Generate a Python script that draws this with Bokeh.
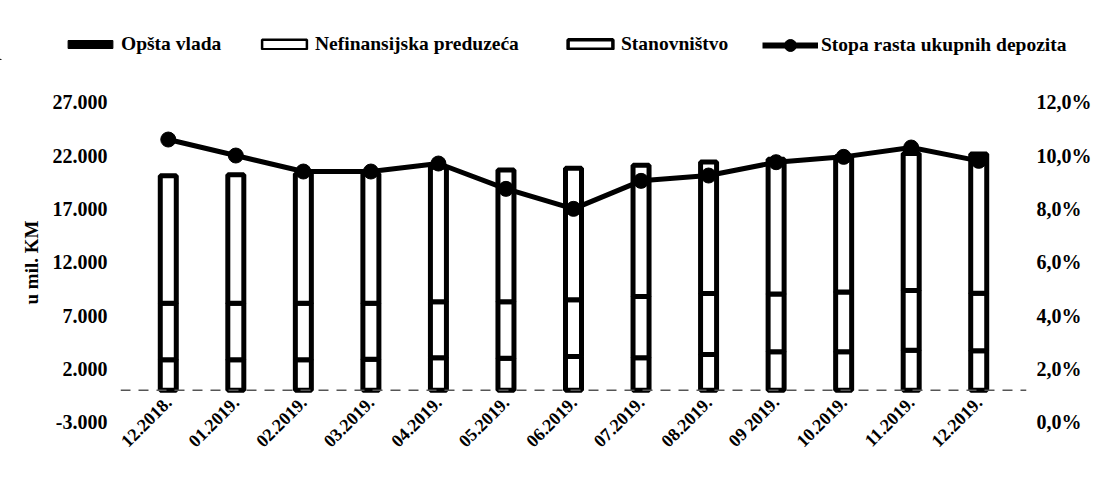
from math import pi
from bokeh.plotting import figure
from bokeh.models import (ColumnDataSource, Range1d, LinearAxis, FixedTicker,
                          CustomJSTickFormatter, Legend, LegendItem, LabelSet,
                          Span, FactorRange)
from bokeh.embed import file_html
from bokeh.resources import INLINE

months = ["12.2018.", "01.2019.", "02.2019.", "03.2019.", "04.2019.", "05.2019.",
          "06.2019.", "07.2019.", "08.2019.", "09 2019.", "10.2019.", "11.2019.", "12.2019."]
opsta_vlada = [2850, 2850, 2850, 2900, 3050, 3000, 3150, 3050, 3350, 3600, 3600, 3750, 3700]
nefinansijska = [5300, 5300, 5300, 5250, 5250, 5300, 5320, 5730, 5710, 5430, 5600, 5590, 5400]
stanovnistvo = [11950, 12050, 12150, 12150, 12600, 12350, 12330, 12320, 12340, 12620, 12700, 12860, 13050]
stopa_rasta = [10.6, 10.0, 9.4, 9.4, 9.7, 8.75, 8.0, 9.05, 9.25, 9.75, 9.95, 10.3, 9.8]
left_ticks = [-3000, 2000, 7000, 12000, 17000, 22000, 27000]
right_ticks = [0, 2, 4, 6, 8, 10, 12]
series_names = ["Opšta vlada", "Nefinansijska preduzeća", "Stanovništvo",
                "Stopa rasta ukupnih depozita"]

FONT = "Liberation Serif"
W = 1100

# ---------------- legend strip (separate root, full-width frame) ----------------
lg = figure(width=W, height=60, x_range=Range1d(0, 1), y_range=Range1d(0, 1),
            output_backend="svg", toolbar_location=None,
            min_border_left=0, min_border_right=0, min_border_top=0, min_border_bottom=0)
lg.axis.visible = False
lg.grid.visible = False
lg.outline_line_color = None

# legend sample glyphs, placed outside the visible range
dummy = ColumnDataSource(dict(x=[-5.0, -4.0], y=[-5.0, -4.0]))
leg1 = lg.vbar(x="x", top="y", width=0.1, source=dummy, fill_color="black",
               line_color="black", line_width=1)
leg2 = lg.vbar(x="x", top="y", width=0.1, source=dummy, fill_color="white",
               line_color="black", line_width=2.5)
leg3 = lg.vbar(x="x", top="y", width=0.1, source=dummy, fill_color="white",
               line_color="black", line_width=3.5)
leg4a = lg.line(x="x", y="y", source=dummy, line_color="black", line_width=6)
leg4b = lg.scatter(x="x", y="y", source=dummy, marker="circle", size=15,
                   fill_color="black", line_color="black")

specs = [
    (series_names[0], [leg1], (62, 5), 10),
    (series_names[1], [leg2], (256, 5), 12),
    (series_names[2], [leg3], (562, 5), 12),
    (series_names[3], [leg4a, leg4b], (762, 0), 30),
]
for label, rends, loc, gh in specs:
    lgd = Legend(items=[LegendItem(label=label, renderers=rends)], location=loc)
    lgd.label_text_font = FONT
    lgd.label_text_font_style = "bold"
    lgd.label_text_font_size = "19.5px"
    lgd.label_text_color = "black"
    lgd.glyph_width = 56
    lgd.glyph_height = gh
    lgd.label_height = 20
    lgd.label_standoff = 3
    lgd.padding = 0
    lgd.margin = 0
    lgd.border_line_color = None
    lgd.background_fill_alpha = 0
    lg.add_layout(lgd, "center")

# ---------------- main chart ----------------
src = ColumnDataSource(dict(m=months, opsta=opsta_vlada, nef=nefinansijska,
                            stan=stanovnistvo, stopa=stopa_rasta))

# left axis -3000..27000 and right axis 0..12 % share pixel positions
Y0, Y1 = -6966, 30909
xr = FactorRange(factors=months, range_padding=0.2074, range_padding_units="absolute")
p = figure(x_range=xr, y_range=Range1d(Y0, Y1),
           width=W, height=426, output_backend="svg", toolbar_location=None,
           min_border_left=120, min_border_right=74, min_border_top=0,
           min_border_bottom=22)
p.extra_y_ranges = {"pct": Range1d((Y0 + 3000) / 2500, (Y1 + 3000) / 2500)}

p.add_layout(Span(location=0, dimension="width", line_color="#555555",
                  line_dash="10 8", line_width=1.5))

p.vbar_stack(["opsta", "nef", "stan"], x="m", width=0.237, source=src,
             fill_color="white", line_color="black", line_width=5)

p.line(x="m", y="stopa", source=src, y_range_name="pct",
       line_color="black", line_width=5)
p.scatter(x="m", y="stopa", source=src, y_range_name="pct",
          marker="circle", size=15, fill_color="black", line_color="black")

left_fmt = CustomJSTickFormatter(code="""
var s = Math.abs(tick).toFixed(0).replace(/\\B(?=(\\d{3})+(?!\\d))/g, '.');
return (tick < 0 ? '-' : '') + s;
""")
right_fmt = CustomJSTickFormatter(code="return tick.toFixed(1).replace('.', ',') + '%';")

p.yaxis.ticker = FixedTicker(ticks=left_ticks)
p.yaxis.formatter = left_fmt
p.yaxis.axis_label = "u mil. KM"
p.yaxis.major_label_standoff = 7
p.yaxis.axis_label_standoff = 8

raxis = LinearAxis(y_range_name="pct", ticker=FixedTicker(ticks=right_ticks),
                   formatter=right_fmt)
raxis.major_label_standoff = 4
p.add_layout(raxis, "right")

for ax in [p.yaxis[0], raxis]:
    ax.axis_line_color = None
    ax.major_tick_line_color = None
    ax.minor_tick_line_color = None
    ax.major_label_text_font = FONT
    ax.major_label_text_font_style = "bold"
    ax.major_label_text_font_size = "20px"
    ax.major_label_text_color = "black"
    ax.axis_label_text_font = FONT
    ax.axis_label_text_font_style = "bold"
    ax.axis_label_text_font_size = "19px"
    ax.axis_label_text_color = "black"

p.xaxis.visible = False
p.xgrid.visible = False
p.ygrid.visible = False
p.outline_line_color = None

labels = LabelSet(x="m", y=0, text="m", source=src, angle=pi / 4,
                  text_align="right", text_baseline="middle", x_offset=0, y_offset=-9,
                  text_font=FONT, text_font_style="bold", text_font_size="18px",
                  text_color="black")
p.add_layout(labels)

open("out.html", "w").write(file_html([lg, p], INLINE))
